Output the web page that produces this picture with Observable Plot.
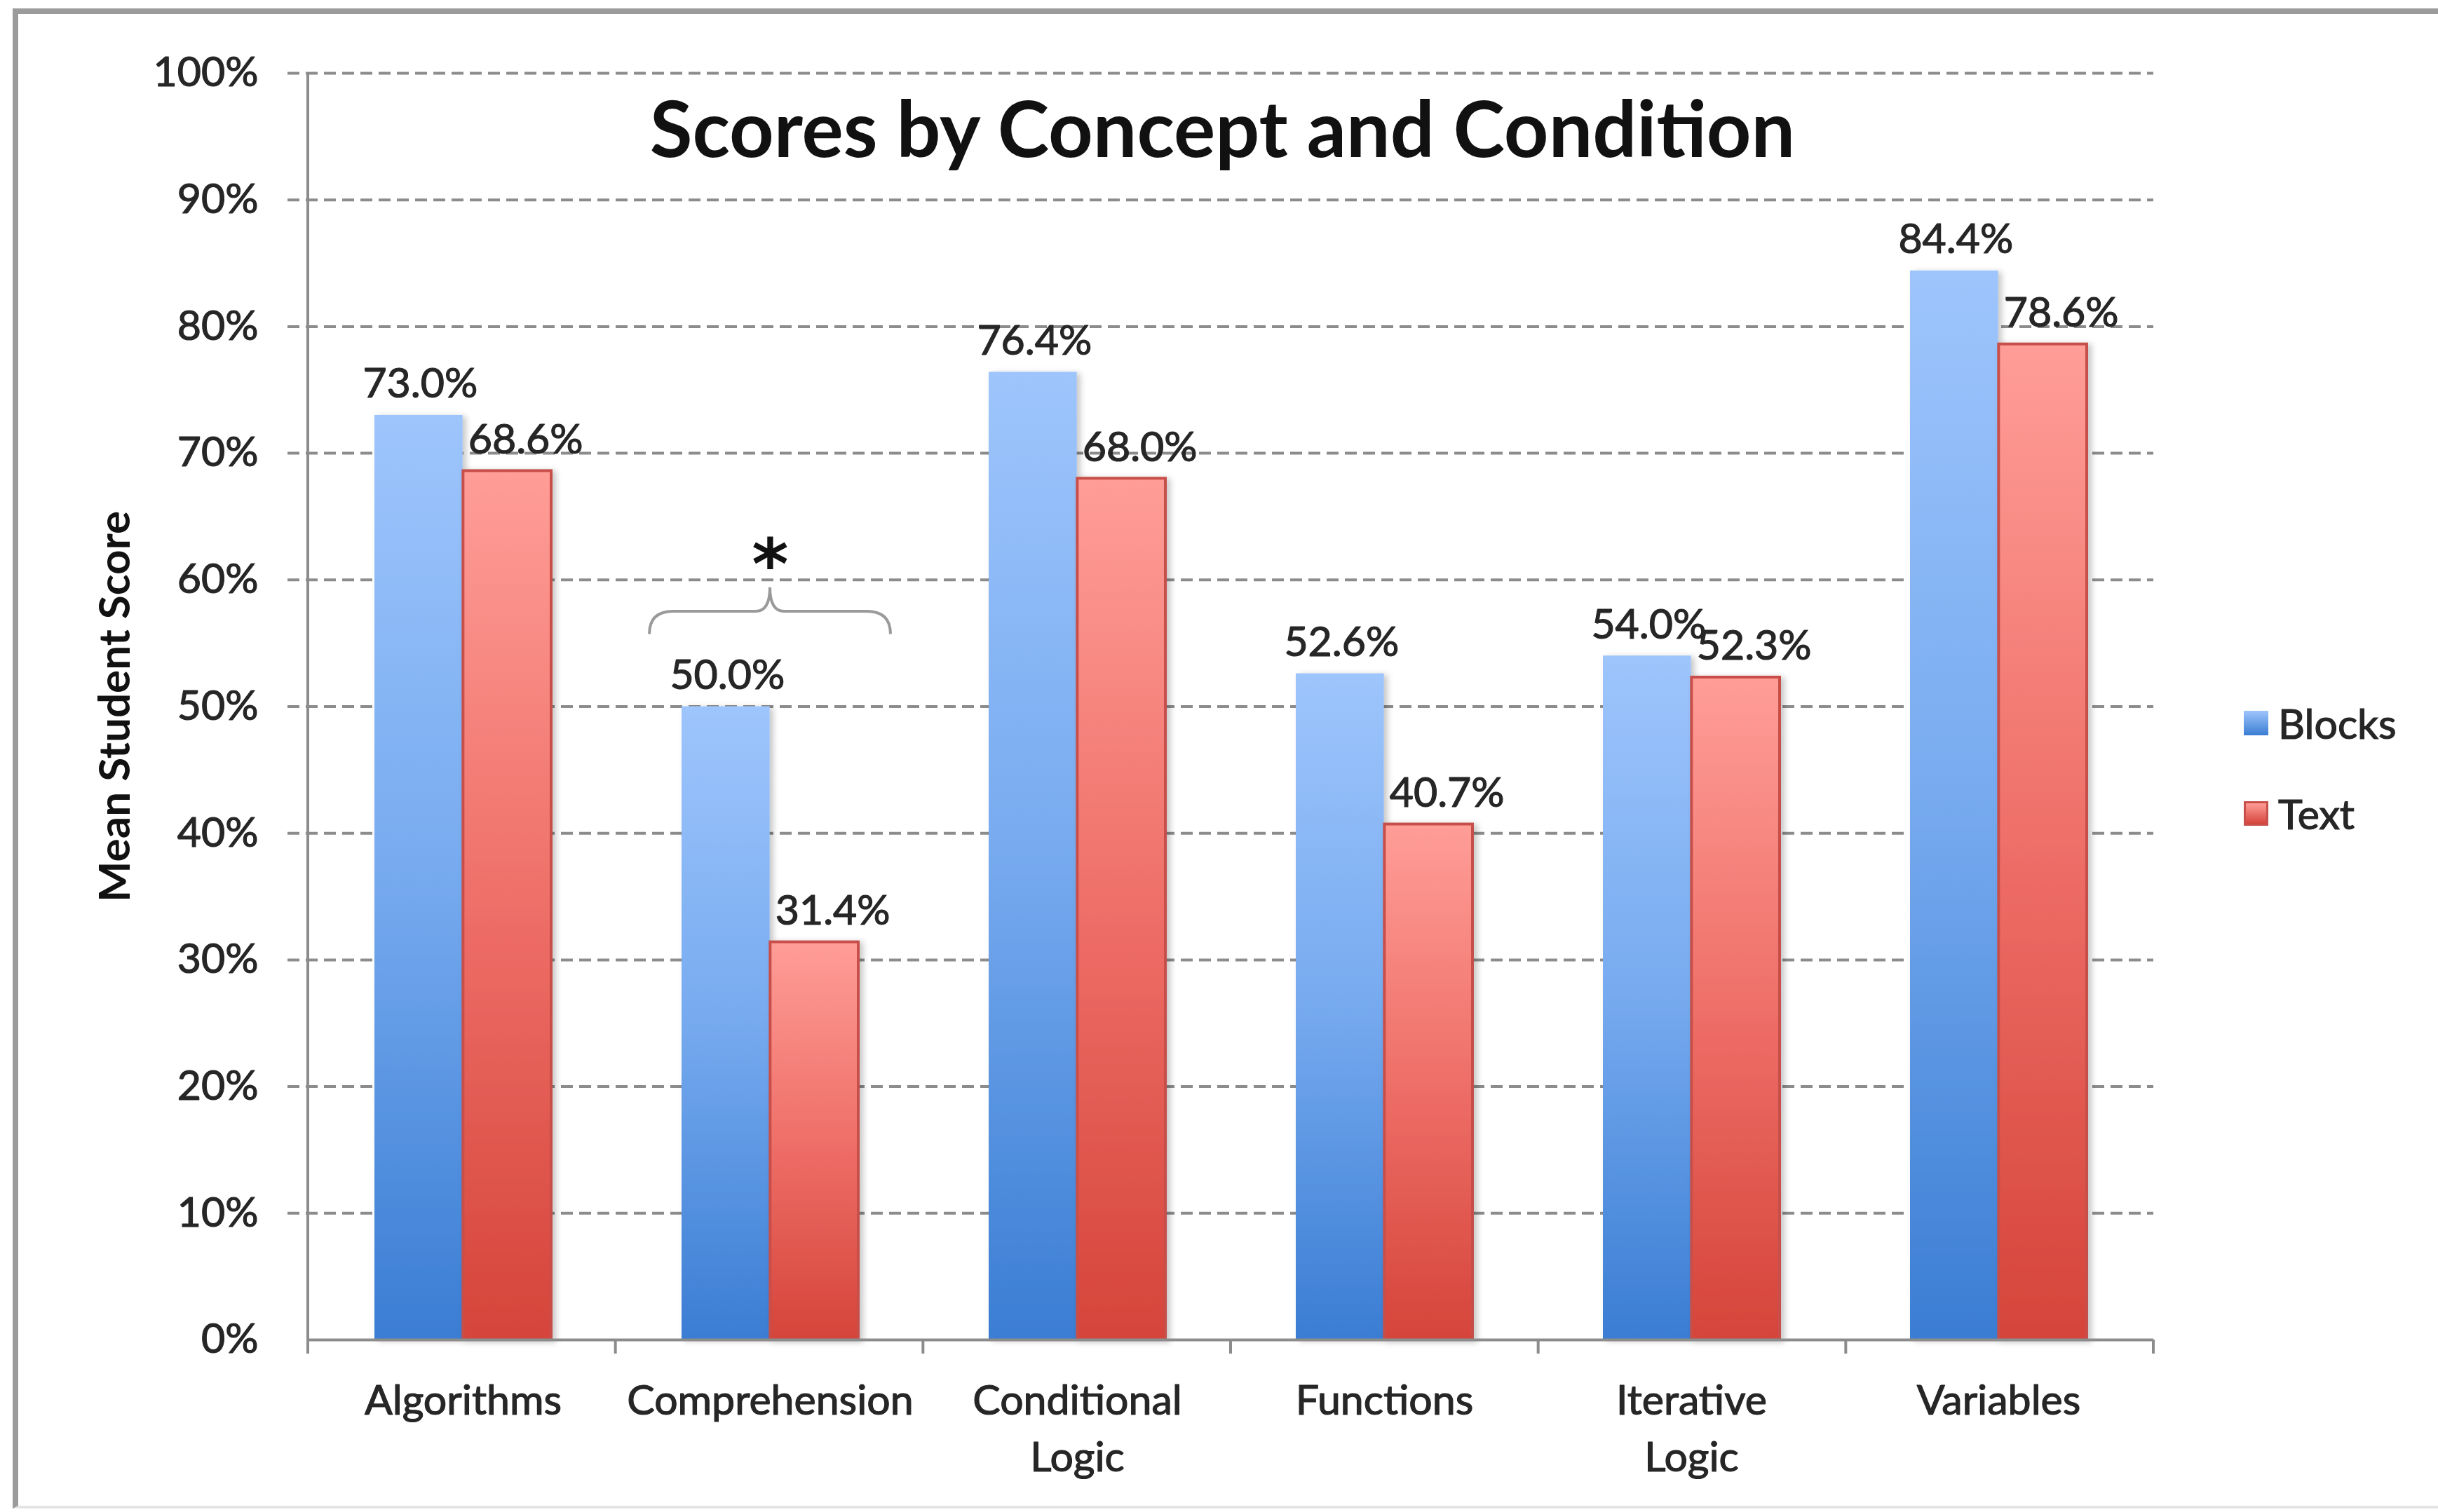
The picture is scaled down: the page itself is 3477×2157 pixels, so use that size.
<!DOCTYPE html>
<html>
<head>
<meta charset="utf-8">
<script src="https://cdn.jsdelivr.net/npm/d3@7"></script>
<script src="https://cdn.jsdelivr.net/npm/@observablehq/plot@0.6"></script>
<style>
  html, body { margin: 0; padding: 0; background: #fff; }
  #wrap { position: relative; width: 3477px; height: 2157px; overflow: hidden; font-family: Lato, "Open Sans", sans-serif; background: #fff; }
  #frame { position: absolute; left: 18px; top: 12px; width: 3500px; height: 2140px; box-sizing: border-box;
           border-left: 8px solid #9b9b9b; border-top: 8px solid #9b9b9b; border-bottom: 4px solid #e4e4e4; }
  #chart { position: absolute; left: 0; top: 0; }
  #chart svg g[aria-label="bar"] { filter: url(#barShadow); }
  .legend-item { position: absolute; left: 3200px; height: 80px; display: flex; align-items: center; font-size: 59px; color: #262626; -webkit-text-stroke: 1.2px #262626; }
  .swatch { width: 35px; height: 35px; margin-right: 14px; box-sizing: border-box; }
</style>
</head>
<body>
<div id="wrap">
  <div id="frame"></div>
  <div id="chart"></div>
</div>
<script>
// ---------- data ----------
const categories = ["Algorithms", "Comprehension", "Conditional Logic", "Functions", "Iterative Logic", "Variables"];
const categoryLabels = ["Algorithms", "Comprehension", "Conditional\nLogic", "Functions", "Iterative\nLogic", "Variables"];
const seriesNames = ["Blocks", "Text"];
const blocksScores = [73.0, 50.0, 76.4, 52.6, 54.0, 84.4];
const textScores = [68.6, 31.4, 68.0, 40.7, 52.3, 78.6];
const yTicks = [0, 10, 20, 30, 40, 50, 60, 70, 80, 90, 100];
const titleText = "Scores by Concept and Condition";
const yLabelText = "Mean Student Score";
// significance annotation (brace + asterisk) over Comprehension, in score units
const significantCategories = ["Comprehension"];
const braceLevels = {end: 55.7, arm: 57.5, tip: 59.4, star: 62.6};

// ---------- layout ----------
const W = 3477, H = 2157;
const mL = 439, mR = 406, mT = 104, mB = 246;
const padInner = 0.424;
const step = (W - mL - mR) / categories.length;
const bw = step * (1 - padInner);
const half = bw / 2;
const textColor = "#262626";
const gridColor = "#8c8c8c";
const thicken = {stroke: textColor, strokeWidth: 1.2};

const blocks = categories.map((c, i) => ({category: c, series: seriesNames[0], score: blocksScores[i]}));
const texts = categories.map((c, i) => ({category: c, series: seriesNames[1], score: textScores[i]}));

function defsMark() {
  const defs = d3.create("svg:defs");
  const gb = defs.append("linearGradient").attr("id", "gBlue").attr("x1", 0).attr("y1", 0).attr("x2", 0).attr("y2", 1);
  gb.append("stop").attr("offset", "0%").attr("stop-color", "#9ec5fc");
  gb.append("stop").attr("offset", "50%").attr("stop-color", "#76aaef");
  gb.append("stop").attr("offset", "100%").attr("stop-color", "#3a7dd3");
  const gr = defs.append("linearGradient").attr("id", "gRed").attr("x1", 0).attr("y1", 0).attr("x2", 0).attr("y2", 1);
  gr.append("stop").attr("offset", "0%").attr("stop-color", "#ff9d97");
  gr.append("stop").attr("offset", "50%").attr("stop-color", "#ee6f68");
  gr.append("stop").attr("offset", "100%").attr("stop-color", "#d5443a");
  const f = defs.append("filter").attr("id", "barShadow").attr("x", "-20%").attr("y", "-5%").attr("width", "140%").attr("height", "110%");
  f.append("feDropShadow").attr("dx", 5).attr("dy", 2).attr("stdDeviation", 4).attr("flood-color", "#000").attr("flood-opacity", 0.22);
  return defs.node();
}

function axesMark(index, scales, values, dims) {
  const x = scales.x, y = scales.y;
  const x0 = dims.marginLeft, x1 = dims.width - dims.marginRight;
  const g = d3.create("svg:g").attr("stroke", gridColor).attr("stroke-width", 4).attr("fill", "none");
  // y axis line
  g.append("line").attr("x1", x0).attr("x2", x0).attr("y1", y(yTicks[yTicks.length - 1])).attr("y2", y(0));
  // category boundary ticks
  const st = (x1 - x0) / categories.length;
  for (let i = 0; i <= categories.length; i++) {
    const xx = x0 + i * st;
    g.append("line").attr("x1", xx).attr("x2", xx).attr("y1", y(0)).attr("y2", y(0) + 20);
  }
  // significance brace
  const bwid = x.bandwidth ? x.bandwidth() : bw;
  for (const c of significantCategories) {
    const cx = x(c) + bwid / 2;
    const hw = st * 0.392;
    const l = cx - hw, r = cx + hw, rr = 34;
    const yE = y(braceLevels.end), yA = y(braceLevels.arm), yT = y(braceLevels.tip);
    g.append("path")
      .attr("stroke", "#9a9a9a").attr("stroke-width", 4)
      .attr("d", `M${l},${yE} Q${l},${yA} ${l + rr},${yA} L${cx - rr * 0.6},${yA} Q${cx},${yA} ${cx},${yT} Q${cx},${yA} ${cx + rr * 0.6},${yA} L${r - rr},${yA} Q${r},${yA} ${r},${yE}`);
  }
  return g.node();
}

const chart = Plot.plot({
  width: W,
  height: H,
  marginLeft: mL,
  marginRight: mR,
  marginTop: mT,
  marginBottom: mB,
  style: {fontFamily: "Lato, 'Open Sans', sans-serif", fontSize: "59px", color: textColor, background: "transparent"},
  x: {domain: categories, paddingInner: padInner, paddingOuter: padInner / 2, axis: null},
  y: {domain: [0, 100], axis: null},
  marks: [
    defsMark,
    Plot.ruleY(yTicks.filter(t => t > 0), {y: d => d, stroke: gridColor, strokeWidth: 4, strokeDasharray: "17,9", insetLeft: -29}),
    Plot.barY(blocks, {x: "category", y: "score", fill: "url(#gBlue)", insetRight: half}),
    Plot.barY(texts, {x: "category", y: "score", fill: "url(#gRed)", stroke: "#c8504a", strokeWidth: 4, insetLeft: half}),
    Plot.ruleY([0], {y: d => d, stroke: gridColor, strokeWidth: 4}),
    axesMark,
    // y tick labels
    Plot.text(yTicks, {y: d => d, frameAnchor: "left", textAnchor: "end", lineAnchor: "middle", dx: -71, text: d => d + "%", fill: textColor, ...thicken}),
    // category labels
    Plot.text(categories, {x: d => d, frameAnchor: "bottom", lineAnchor: "top", dy: 50, lineHeight: 1.36, text: (d, i) => categoryLabels[i], fill: textColor, ...thicken}),
    // value labels
    Plot.text(blocks, {x: "category", y: "score", text: d => d.score.toFixed(1) + "%", dx: -half / 2 + 2, dy: -44, lineAnchor: "middle", fill: textColor, ...thicken}),
    Plot.text(texts, {x: "category", y: "score", text: d => d.score.toFixed(1) + "%", dx: half / 2 + 26, dy: -44, lineAnchor: "middle", fill: textColor, ...thicken}),
    // asterisk
    Plot.text(significantCategories, {x: d => d, y: () => braceLevels.star, text: () => "*", fontFamily: "DejaVu Sans", fontWeight: "bold", fontSize: 100, lineAnchor: "middle", dy: 28, fill: "#111"}),
    // title
    Plot.text([titleText], {frameAnchor: "top", lineAnchor: "middle", dy: 84, dx: -12, text: d => d, fontSize: 111, fontWeight: "bold", fill: "#111"}),
    // y axis label
    Plot.text([yLabelText], {frameAnchor: "left", textAnchor: "middle", lineAnchor: "middle", rotate: -90, dx: -274, text: d => d, fontSize: 62, fontWeight: "bold", fill: "#111"})
  ]
});
document.getElementById("chart").appendChild(chart);

// legend (HTML)
const legendColors = {
  Blocks: {bg: "linear-gradient(#9ec5fc, #3a7dd3)", border: "none"},
  Text: {bg: "linear-gradient(#ff9d97, #d5443a)", border: "3px solid #c8504a"}
};
const legendCenters = [1031, 1160];
const wrap = document.getElementById("wrap");
seriesNames.forEach((s, i) => {
  const item = document.createElement("div");
  item.className = "legend-item";
  item.style.top = (legendCenters[i] - 40) + "px";
  const sw = document.createElement("div");
  sw.className = "swatch";
  sw.style.background = legendColors[s].bg;
  sw.style.border = legendColors[s].border;
  const label = document.createElement("span");
  label.textContent = s;
  item.appendChild(sw);
  item.appendChild(label);
  wrap.appendChild(item);
});
</script>
</body>
</html>
